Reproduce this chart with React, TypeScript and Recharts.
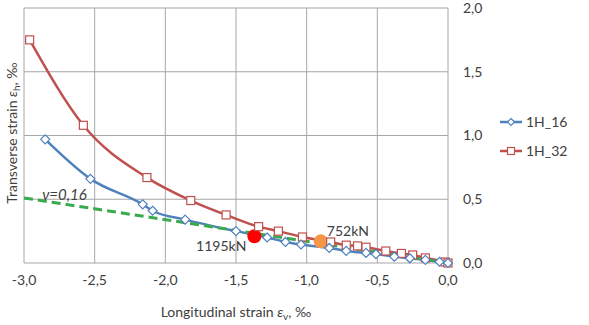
import { ComposedChart, Line, XAxis, YAxis, CartesianGrid, ReferenceDot, Legend } from 'recharts'

// longitudinal (x) and transverse (y) strain, ‰
const strainX16 = [-2.85, -2.53, -2.16, -2.09, -1.86, -1.5, -1.28, -1.15, -1.04, -0.84, -0.72, -0.58, -0.51, -0.38, -0.27, -0.16, -0.06, 0]
const strainY16 = [0.97, 0.66, 0.46, 0.41, 0.34, 0.25, 0.2, 0.165, 0.145, 0.118, 0.095, 0.079, 0.07, 0.05, 0.037, 0.024, 0.01, 0]
const strainX32 = [-2.96, -2.58, -2.13, -1.82, -1.57, -1.34, -1.2, -1.03, -0.83, -0.72, -0.64, -0.58, -0.44, -0.33, -0.25, -0.16, -0.02, 0]
const strainY32 = [1.75, 1.08, 0.67, 0.49, 0.377, 0.285, 0.25, 0.204, 0.165, 0.14, 0.134, 0.124, 0.094, 0.075, 0.063, 0.04, 0.008, 0]
const poissonX = [-3, 0]
const poissonY = [0.51, 0]

const xTicks = [-3, -2.5, -2, -1.5, -1, -0.5, 0]
const yTicks = [0, 0.5, 1, 1.5, 2]

const loads = [
  { label: '1195kN', x: -1.37, y: 0.21, color: '#ff0000' },
  { label: '752kN', x: -0.9, y: 0.17, color: '#f79646' },
]

const BLUE = '#4f81bd'
const RED = '#c0504d'
const GREEN = '#3aaa4f'
const TEXT = '#404040'
const FONT = 'Lato, "Open Sans", sans-serif'

const toPoints = (xs: number[], ys: number[]) => xs.map((x, i) => ({ x, y: ys[i] }))
const h16 = toPoints(strainX16, strainY16)
const h32 = toPoints(strainX32, strainY32)
const poisson = toPoints(poissonX, poissonY)

const fmt = (v: number) => v.toFixed(1).replace('.', ',')

const Diamond = ({ cx, cy, size = 4.5, color }: any) => (
  <path
    d={`M${cx},${cy - size}L${cx + size},${cy}L${cx},${cy + size}L${cx - size},${cy}Z`}
    fill="#fff"
    stroke={color}
    strokeWidth={1.2}
  />
)

const Square = ({ cx, cy, size = 4, color }: any) => (
  <rect x={cx - size} y={cy - size} width={size * 2} height={size * 2} fill="#fff" stroke={color} strokeWidth={1.2} />
)

function LegendBox() {
  const items = [
    { name: '1H_16', color: BLUE, Mark: Diamond },
    { name: '1H_32', color: RED, Mark: Square },
  ]
  return (
    <div style={{ width: 88, fontFamily: FONT, fontSize: 14, color: TEXT }}>
      {items.map(({ name, color, Mark }) => (
        <div key={name} style={{ display: 'flex', alignItems: 'center', height: 29 }}>
          <svg width={24} height={12}>
            <line x1={1} y1={6} x2={23} y2={6} stroke={color} strokeWidth={2.5} />
            <Mark cx={12} cy={6} size={3.5} color={color} />
          </svg>
          <span style={{ marginLeft: 3 }}>{name}</span>
        </div>
      ))}
    </div>
  )
}

const yTitle = ({ viewBox }: any) => {
  const cx = viewBox.x + 17
  const cy = 133
  return (
    <text x={cx} y={cy} transform={`rotate(-90 ${cx} ${cy})`} textAnchor="middle" fill={TEXT} fontSize={14} fontFamily={FONT}>
      Transverse strain <tspan fontStyle="italic">ε</tspan>
      <tspan fontSize={10} dy={3}>h</tspan>
      <tspan dy={-3}>, ‰</tspan>
    </text>
  )
}

const xTitle = ({ viewBox }: any) => {
  const cx = viewBox.x + viewBox.width / 2
  return (
    <text x={cx} y={317} textAnchor="middle" fill={TEXT} fontSize={14} fontFamily={FONT}>
      Longitudinal strain <tspan fontStyle="italic">ε</tspan>
      <tspan fontSize={10} dy={3}>v</tspan>
      <tspan dy={-3}>, ‰</tspan>
    </text>
  )
}

export default function App() {
  return (
    <div style={{ position: 'absolute', left: 0, top: 0, background: '#fff' }}>
      <ComposedChart width={589} height={325} margin={{ top: 8, right: 8, bottom: 32, left: 0 }}>
        <CartesianGrid yAxisId="r" stroke="#a6a6a6" strokeWidth={1} />
        <XAxis
          dataKey="x"
          type="number"
          domain={[-3, 0]}
          ticks={xTicks}
          tickFormatter={fmt}
          axisLine={false}
          tickLine={false}
          tickSize={0}
          tickMargin={12}
          height={30}
          tick={{ fill: TEXT, fontSize: 14, fontFamily: FONT }}
          label={{ content: xTitle }}
        />
        <YAxis yAxisId="l" orientation="left" width={24} domain={[0, 2]} tick={false} axisLine={false} tickLine={false} label={{ content: yTitle }} />
        <YAxis
          yAxisId="r"
          orientation="right"
          domain={[0, 2]}
          ticks={yTicks}
          tickFormatter={fmt}
          axisLine={false}
          tickLine={false}
          tickSize={0}
          tickMargin={15}
          width={45}
          tick={{ fill: TEXT, fontSize: 14, fontFamily: FONT, textAnchor: 'start' }}
        />
        <Legend layout="vertical" align="right" verticalAlign="middle" wrapperStyle={{ top: 107, left: 499 }} content={() => <LegendBox />} />
        <Line
          yAxisId="r"
          data={h32}
          dataKey="y"
          name="1H_32"
          type="monotone"
          stroke={RED}
          strokeWidth={2.5}
          dot={(p: any) => <Square key={`s${p.index}`} cx={p.cx} cy={p.cy} color={RED} />}
          isAnimationActive={false}
        />
        <Line
          yAxisId="r"
          data={h16}
          dataKey="y"
          name="1H_16"
          type="monotone"
          stroke={BLUE}
          strokeWidth={2.5}
          dot={(p: any) => <Diamond key={`d${p.index}`} cx={p.cx} cy={p.cy} color={BLUE} />}
          isAnimationActive={false}
        />
        <Line
          yAxisId="r"
          data={poisson}
          dataKey="y"
          legendType="none"
          type="linear"
          stroke={GREEN}
          strokeWidth={3}
          strokeDasharray="9 5"
          dot={false}
          isAnimationActive={false}
        />
        <ReferenceDot
          yAxisId="r"
          x={-2.9}
          y={0.51}
          r={0}
          label={{
            content: ({ viewBox }: any) => (
              <text x={viewBox.x + 4} y={viewBox.y + 2} fill={TEXT} fontSize={15} fontStyle="italic" fontFamily={FONT}>
                ν=0,16
              </text>
            ),
          }}
        />
        {loads.map((d, i) => (
          <ReferenceDot
            key={d.label}
            yAxisId="r"
            x={d.x}
            y={d.y}
            r={7}
            fill={d.color}
            stroke="none"
            label={{
              content: ({ viewBox }: any) => {
                const cx = viewBox.x + viewBox.width / 2
                const cy = viewBox.y + viewBox.height / 2
                return i === 0 ? (
                  <text x={cx - 8} y={cy + 15} textAnchor="end" fill={TEXT} fontSize={14} fontFamily={FONT}>
                    {d.label}
                  </text>
                ) : (
                  <text x={cx + 6} y={cy - 5} fill={TEXT} fontSize={14} fontFamily={FONT}>
                    {d.label}
                  </text>
                )
              },
            }}
          />
        ))}
      </ComposedChart>
    </div>
  )
}
